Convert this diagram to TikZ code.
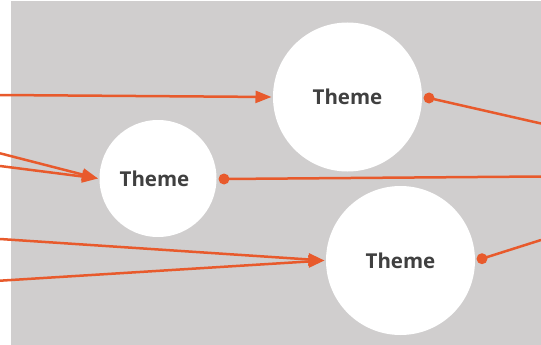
\documentclass[tikz,border=0pt]{standalone}
\usepackage{fontspec}
\setmainfont{Open Sans}
\usetikzlibrary{arrows.meta}
\definecolor{bggray}{HTML}{D0CECE}
\definecolor{accent}{HTML}{E85A2C}
\definecolor{txt}{HTML}{404040}
\begin{document}
\begin{tikzpicture}[x=1pt,y=-1pt,
  theme/.style={circle,fill=white,inner sep=0pt,outer sep=1.5pt,
    font=\fontsize{20.5}{24}\selectfont\bfseries,text=txt},
  link/.style={draw=accent,line width=2.5pt,-{Triangle[length=16pt,width=12pt]}},
  outlink/.style={draw=accent,line width=2.5pt},
  dotmark/.style={circle,fill=accent,inner sep=0pt,minimum size=11pt}]
\useasboundingbox (0,0) rectangle (541,345);
\fill[bggray] (11,1) rectangle (541,345);
\node[theme,minimum size=149pt] (c1) at (347.5,97) {Theme};
\node[theme,minimum size=117pt] (c2) at (158,178.5) {\hspace*{-7pt}Theme};
\node[theme,minimum size=149pt] (c3) at (400.5,260.5) {Theme};
\coordinate (l1) at (0,95);
\coordinate (l2) at (0,153.3);
\coordinate (l3) at (0,166);
\coordinate (l4) at (0,239);
\coordinate (l5) at (0,280.7);
\coordinate (r1) at (541,123.5);
\coordinate (r2) at (541,176.5);
\coordinate (r3) at (541,240);
\draw[link] (l1) -- (c1.west);
\draw[link] (l2) -- (c2.west);
\draw[link] (l3) -- (c2.west);
\draw[link] (l4) -- (c3.west);
\draw[link] (l5) -- (c3.west);
\node[dotmark] (d1) at (429,98) {};
\node[dotmark] (d2) at (224,179) {};
\node[dotmark] (d3) at (482,258.7) {};
\draw[outlink] (d1.center) -- (r1);
\draw[outlink] (d2.center) -- (r2);
\draw[outlink] (d3.center) -- (r3);
\end{tikzpicture}
\end{document}
